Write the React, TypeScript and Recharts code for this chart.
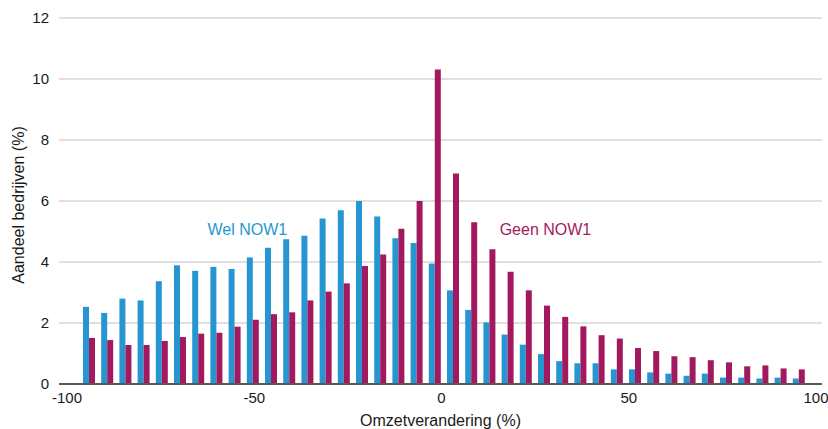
import React from 'react';
import { BarChart, Bar, XAxis, YAxis, CartesianGrid, ReferenceDot } from 'recharts';

const bins = [-95, -90, -85, -80, -75, -70, -65, -60, -55, -50, -45, -40, -35, -30, -25, -20, -15, -10, -5, 0,
  5, 10, 15, 20, 25, 30, 35, 40, 45, 50, 55, 60, 65, 70, 75, 80, 85, 90, 95, 100];

const welNow1 = [2.53, 2.33, 2.80, 2.74, 3.37, 3.89, 3.71, 3.84, 3.77, 4.15,
  4.47, 4.75, 4.86, 5.43, 5.70, 6.00, 5.49, 4.78, 4.62, 3.95,
  3.07, 2.43, 2.02, 1.62, 1.29, 0.98, 0.75, 0.68, 0.68, 0.48,
  0.48, 0.38, 0.34, 0.27, 0.34, 0.21, 0.21, 0.18, 0.21, 0.18];

const geenNow1 = [1.51, 1.44, 1.28, 1.28, 1.41, 1.54, 1.65, 1.68, 1.88, 2.11,
  2.29, 2.35, 2.74, 3.03, 3.30, 3.87, 4.25, 5.09, 6.00, 10.31,
  6.90, 5.30, 4.42, 3.68, 3.07, 2.57, 2.20, 1.89, 1.60, 1.49,
  1.18, 1.08, 0.91, 0.88, 0.78, 0.71, 0.58, 0.61, 0.51, 0.48];

const xTicks = [-100, -50, 0, 50, 100];
const yTicks = [0, 2, 4, 6, 8, 10, 12];

const BLUE = '#2696d3';
const MAGENTA = '#a3195f';
const FONT = '"Liberation Sans", Arial, sans-serif';

const data = bins.map((b, i) => ({ bin: String(b), binNum: b, wel: welNow1[i], geen: geenNow1[i] }));

const YLabel = (props: any) => {
  const vb = props.viewBox || { x: 0, y: 0, width: 0, height: 0 };
  const cx = vb.x + 24;
  const cy = vb.y + vb.height / 2 + 4;
  return (
    <text x={cx} y={cy} transform={`rotate(-90 ${cx} ${cy})`} textAnchor="middle"
      fontSize={16} fontFamily={FONT} fill="#1a1a1a">Aandeel bedrijven (%)</text>
  );
};

const makeNote = (text: string, color: string) => (props: any) => {
  const vb = props.viewBox || { x: 0, y: 0 };
  return (
    <text x={vb.x} y={vb.y} textAnchor="start" fontSize={16} fontFamily={FONT} fill={color}>{text}</text>
  );
};

export default function App() {
  return (
    <div style={{ position: 'absolute', left: 0, top: 0, width: 828, height: 429, background: '#fff' }}>
      <BarChart width={828} height={429} data={data} margin={{ top: 18, right: 6, bottom: 0, left: 0 }}
        barGap={0} barSize={6}>
        <CartesianGrid xAxisId="num" vertical={false} stroke="#d6d6d6" strokeWidth={1.5} />
        <XAxis xAxisId="cat" dataKey="bin" type="category" orientation="top" height={0} hide
          padding={{ left: 21, right: 14 }} />
        <XAxis xAxisId="num" dataKey="binNum" type="number" domain={[-100, 100]} allowDataOverflow ticks={xTicks}
          padding={{ left: 8, right: 6 }} height={45} tickLine={false}
          axisLine={{ stroke: '#595959', strokeWidth: 1.8 }}
          tick={{ fontSize: 15, fontFamily: FONT, fill: '#1a1a1a' }}
          label={{ value: 'Omzetverandering (%)', position: 'insideBottom', offset: 3, fontSize: 16, fontFamily: FONT, fill: '#1a1a1a' }} />
        <YAxis domain={[0, 12]} ticks={yTicks} width={59} axisLine={false} tickLine={false} tickMargin={4}
          tick={{ fontSize: 15, fontFamily: FONT, fill: '#1a1a1a' }}
          label={<YLabel />} />
        <Bar xAxisId="cat" dataKey="wel" name="Wel NOW1" fill={BLUE} isAnimationActive={false} />
        <Bar xAxisId="cat" dataKey="geen" name="Geen NOW1" fill={MAGENTA} isAnimationActive={false} />
        <ReferenceDot xAxisId="num" x={-62.2} y={4.86} r={1} fill="none" stroke="none"
          label={makeNote('Wel NOW1', BLUE)} />
        <ReferenceDot xAxisId="num" x={15.8} y={4.86} r={1} fill="none" stroke="none"
          label={makeNote('Geen NOW1', MAGENTA)} />
      </BarChart>
    </div>
  );
}
